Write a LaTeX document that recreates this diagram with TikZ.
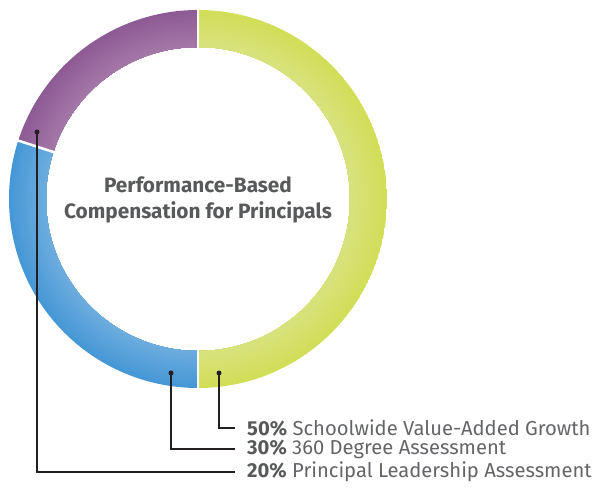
\documentclass[tikz,border=0pt]{standalone}
\usepackage{fontspec}
\setmainfont{Fira Sans}
\usetikzlibrary{positioning}

\definecolor{greendark}{HTML}{D0DE58}
\definecolor{greenlight}{HTML}{DAE382}
\definecolor{bluedark}{HTML}{4597D6}
\definecolor{bluelight}{HTML}{72AFDF}
\definecolor{purpledark}{HTML}{8E5A95}
\definecolor{purplelight}{HTML}{A67BA9}
\definecolor{titlegray}{HTML}{58595B}
\definecolor{labelgray}{HTML}{646568}
\definecolor{leadblack}{HTML}{231F20}

\begin{document}
\begin{tikzpicture}[
  x = 1pt, y = 1pt,
  lead/.style = {draw = leadblack, line width = 1.1pt},
  dot/.style = {circle, fill = leadblack, inner sep = 0pt,
    minimum size = 5pt},
  share/.style = {anchor = west, inner sep = 0pt, text = labelgray,
    font = \fontsize{20.2}{23}\selectfont},
  title/.style = {align = center, text = titlegray,
    font = \fontsize{20.8}{26}\selectfont\bfseries}
  ]
  \useasboundingbox (0,0) rectangle (605,489);
  \coordinate (center) at (198,290);

  % ring segments, dark outside and light inside
  \foreach \from/\to/\ring in {90/-90/green,
                               -90/-198/blue,
                               162/90/purple} {
    \begin{scope}
      \clip ([shift={(\from:189pt)}]center)
        arc[start angle=\from, end angle=\to, radius=189pt]
        -- ([shift={(\to:152pt)}]center)
        arc[start angle=\to, end angle=\from, radius=152pt] -- cycle;
      \foreach \k in {0,...,19}
        \fill[\ring light!\the\numexpr\k*5\relax!\ring dark]
          (center) circle ({189pt-2pt*\k});
    \end{scope}
  }
  \foreach \cut in {90, -90, 162}
    \draw[white, line width = 2.5pt] ([shift={(\cut:150pt)}]center)
      -- ([shift={(\cut:192pt)}]center);

  \node[title] (title) at (198,289)
    {Performance-Based\\Compensation for Principals};

  % legend
  \node[share] (growth) at (247,61)
    {\textcolor{titlegray}{\bfseries 50\%} Schoolwide Value-Added Growth};
  \node[share] (degree) at (247,40)
    {\textcolor{titlegray}{\bfseries 30\%} 360 Degree Assessment};
  \node[share] (leader) at (247,17)
    {\textcolor{titlegray}{\bfseries 20\%} Principal Leadership Assessment};

  \node[dot] (dotgrowth) at (219,116) {};
  \node[dot] (dotdegree) at (171,116) {};
  \node[dot] (dotleader) at (37,357) {};

  \draw[lead] (dotgrowth.center) |- ([xshift=-12pt]growth.west);
  \draw[lead] (dotdegree.center) |- ([xshift=-12pt]degree.west);
  \draw[lead] (dotleader.center) |- ([xshift=-12pt]leader.west);
\end{tikzpicture}
\end{document}
